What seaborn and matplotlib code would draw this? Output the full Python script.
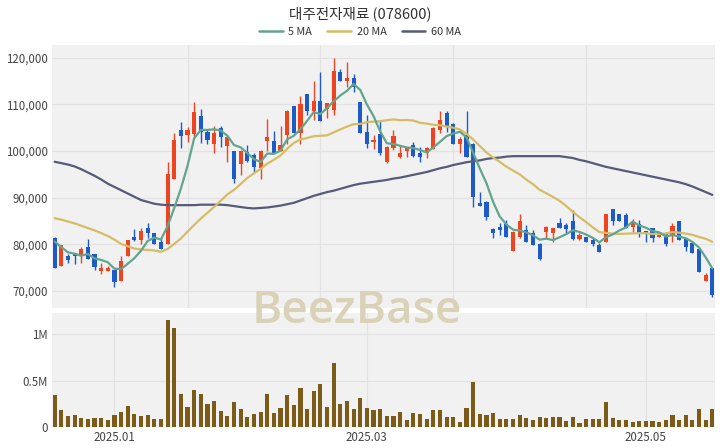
import numpy as np
import pandas as pd
import matplotlib
matplotlib.use("Agg")
import matplotlib.pyplot as plt
import seaborn as sns
from matplotlib.lines import Line2D

title = "대주전자재료 (078600)"
ma_labels = ["5 MA", "20 MA", "60 MA"]
month_labels = ["2025.01", "2025.03", "2025.05"]
month_index = [9, 47, 89]          # first trading day of each month
price_ticks = [70000, 80000, 90000, 100000, 110000, 120000]
vol_ticks = [0, 500000, 1000000]
vol_tick_labels = ["0", "0.5M", "1M"]

opens = [81400, 75400, 77400, 78100, 77400, 79500, 77900, 74300, 74300, 74500,
         72200, 77600, 81500, 80900, 83600, 82500, 80400, 80100, 94100, 104600,
         103400, 103600, 107500, 104100, 101600, 104900, 101100, 100000, 97200, 99700,
         99100, 96400, 102200, 102100, 99900, 103400, 109700, 103800, 112200, 108600,
         110700, 109000, 108800, 117000, 114900, 115700, 110600, 104100, 102000, 103600,
         97700, 100600, 98800, 99900, 101300, 99500, 99500, 100400, 104500, 108200,
         105800, 101600, 103400, 101600, 88800, 89100, 83200, 83800, 84400, 78600,
         81500, 83100, 82500, 80100, 82700, 82500, 84600, 84100, 84900, 81100,
         81500, 80900, 79900, 80400, 87500, 86500, 86300, 83800, 84400, 82900,
         83400, 81500, 82500, 82000, 85000, 81400, 80200, 79100, 72200, 74900]
highs = [81600, 79900, 77900, 78100, 79500, 81100, 77900, 76100, 75300, 74500,
         77500, 81000, 83300, 83400, 84600, 82500, 81300, 97700, 103900, 106300,
         105100, 110400, 108900, 104600, 105400, 105400, 103100, 100000, 100200, 101300,
         99600, 100200, 106900, 104300, 105400, 108800, 109700, 111800, 112200, 114900,
         117000, 110200, 119900, 117500, 119100, 116600, 110600, 107700, 103400, 106600,
         101100, 104500, 101100, 100900, 102000, 100900, 100800, 105100, 108600, 108600,
         105900, 102900, 108600, 101700, 91300, 89200, 83600, 84500, 85200, 82800,
         86400, 84100, 83100, 80200, 83900, 83500, 85600, 84600, 87400, 82400,
         81500, 81300, 80200, 86600, 87500, 86500, 86800, 85400, 85200, 82900,
         83400, 82100, 82700, 84500, 85000, 81400, 80200, 79100, 73800, 74900]
lows = [74900, 75400, 76000, 75800, 76100, 76900, 74600, 73600, 74300, 70800,
        72200, 77600, 80700, 80000, 81400, 80100, 78900, 80100, 93900, 100600,
        102000, 103100, 101800, 101500, 99600, 100900, 97700, 93100, 94900, 97700,
        95600, 94100, 99900, 99600, 99900, 101600, 103800, 101600, 107700, 106600,
        106500, 107000, 107700, 114900, 113800, 112700, 103800, 100600, 100400, 99100,
        97500, 100200, 98600, 98800, 98800, 97700, 98400, 100400, 103900, 104100,
        101400, 99600, 98700, 88100, 88200, 85200, 81300, 82000, 81500, 78500,
        81400, 80400, 79800, 76600, 81300, 80400, 83400, 82400, 80900, 81000,
        80400, 79600, 78400, 80400, 84100, 84900, 83400, 82700, 81600, 80600,
        80600, 81500, 79600, 80600, 80900, 78600, 78200, 74100, 72200, 68800]
closes = [75000, 79900, 76600, 77400, 78900, 76900, 75200, 74900, 74900, 72000,
          76500, 80900, 80900, 82900, 82400, 80100, 78900, 95100, 102400, 103200,
          104500, 108400, 104100, 102400, 103900, 103100, 102900, 94100, 99900, 97900,
          96500, 99900, 103100, 99600, 101300, 108600, 103800, 110000, 108600, 110700,
          106500, 110200, 117200, 114900, 115700, 113800, 103900, 101600, 102400, 99500,
          100900, 103200, 99600, 100600, 98900, 98800, 100600, 104900, 106600, 105100,
          101500, 102500, 98800, 90100, 88300, 85800, 82500, 83100, 81600, 82700,
          84900, 80600, 79900, 76900, 83800, 83400, 83600, 83200, 81100, 82000,
          80600, 80100, 78400, 86600, 84900, 84900, 83400, 84600, 82400, 82500,
          81300, 82100, 80100, 84000, 80900, 79400, 78200, 74100, 73400, 69100]
volumes = [340000, 180000, 120000, 130000, 100000, 90000, 100000, 100000, 70000, 130000,
           160000, 225000, 140000, 120000, 130000, 90000, 85000, 1150000, 1060000, 360000,
           210000, 400000, 360000, 250000, 275000, 170000, 120000, 270000, 190000, 110000,
           140000, 160000, 350000, 150000, 200000, 340000, 240000, 420000, 190000, 390000,
           460000, 210000, 690000, 250000, 280000, 190000, 310000, 200000, 180000, 190000,
           120000, 120000, 160000, 80000, 150000, 135000, 85000, 180000, 180000, 110000,
           110000, 50000, 205000, 480000, 140000, 125000, 150000, 90000, 85000, 90000,
           130000, 95000, 80000, 110000, 100000, 105000, 110000, 60000, 110000, 45000,
           90000, 90000, 90000, 265000, 100000, 80000, 80000, 50000, 65000, 60000,
           60000, 50000, 70000, 125000, 70000, 125000, 70000, 190000, 80000, 195000]
# moving-average values before enough history is in the window
ma5_head = [80600, 79400, 78300, 78000]
ma20_head = [85600, 85300, 84900, 84500, 84000, 83500, 83000, 82400, 81800, 81000,
             80100, 79600, 79100, 78900, 78800, 78700, 78400, 79000, 80100]
ma60 = [97700, 97400, 97100, 96700, 96100, 95400, 94700, 93900, 93000, 92300,
        91600, 90900, 90200, 89500, 89100, 88700, 88500, 88400, 88400, 88400,
        88400, 88400, 88500, 88500, 88500, 88500, 88400, 88200, 88000, 87800,
        87700, 87800, 87900, 88100, 88300, 88600, 88900, 89400, 89900, 90400,
        90800, 91200, 91500, 91900, 92300, 92700, 93000, 93200, 93400, 93600,
        93800, 94100, 94300, 94600, 94900, 95200, 95500, 95900, 96300, 96600,
        97000, 97300, 97600, 97800, 98000, 98300, 98500, 98600, 98800, 98900,
        98900, 98900, 98900, 98900, 98900, 98900, 98900, 98700, 98500, 98100,
        97800, 97400, 97000, 96600, 96300, 96000, 95700, 95400, 95100, 94800,
        94500, 94200, 93900, 93600, 93300, 92900, 92400, 91800, 91200, 90600]

# ---------------- styling ----------------
sns.set_theme(style="whitegrid")
plt.rcParams["font.family"] = ["Noto Sans CJK KR", "DejaVu Sans"]

UP, DOWN = "#ef4420", "#1f5bc6"
C5, C20, C60 = "#62a58c", "#d4bd64", "#555b78"
VOLC = "#7a5b17"
BG, GRID = "#f1f1f1", "#e2e2e2"
TXT = "#444444"

n = len(closes)
idx = np.arange(n)
df = pd.DataFrame({"i": idx, "o": opens, "h": highs, "l": lows, "c": closes, "v": volumes})
ma5 = df["c"].rolling(5).mean().to_numpy()
ma5[:4] = ma5_head
ma20 = df["c"].rolling(20).mean().to_numpy()
ma20[:19] = ma20_head
df["ma5"], df["ma20"], df["ma60"] = ma5, ma20, ma60

fig = plt.figure(figsize=(7.2, 4.48), dpi=100)
fig.patch.set_facecolor("white")
ax = fig.add_axes([52 / 720, 1 - 308 / 448, 663 / 720, 263 / 448])
axv = fig.add_axes([52 / 720, 1 - 427 / 448, 663 / 720, 114 / 448])

for a in (ax, axv):
    a.set_facecolor(BG)
    for s in a.spines.values():
        s.set_visible(False)
    a.grid(True, color=GRID, linewidth=0.9)
    a.tick_params(length=0, colors=TXT, labelsize=8.3, pad=3)
    a.set_axisbelow(True)

# candles
o = df["o"].to_numpy(); c = df["c"].to_numpy()
cols = np.where(c >= o, UP, DOWN)
ax.vlines(idx, df["l"], df["h"], colors=cols, linewidth=1.0, zorder=2)
body = np.maximum(np.abs(c - o), 250)
ax.bar(idx, body, bottom=np.minimum(o, c), width=0.62, color=cols, linewidth=0, zorder=2)

# moving averages
sns.lineplot(data=df, x="i", y="ma60", ax=ax, color=C60, linewidth=1.6, zorder=3)
sns.lineplot(data=df, x="i", y="ma20", ax=ax, color=C20, linewidth=1.6, zorder=3)
sns.lineplot(data=df, x="i", y="ma5", ax=ax, color=C5, linewidth=1.6, zorder=3)

ax.set_xlim(-0.4, n - 0.6)
ax.set_ylim(66360, 122720)
ax.set_yticks(price_ticks)
ax.set_yticklabels([f"{t:,}" for t in price_ticks])
ax.set_xticks([20, 40, 60, 80])
ax.set_xticklabels([])
ax.set_xlabel(""); ax.set_ylabel("")

# volume
sns.barplot(data=df, x="i", y="v", ax=axv, color=VOLC, saturation=1, width=0.62,
            native_scale=True, linewidth=0, zorder=2)
axv.set_xlim(-0.4, n - 0.6)
axv.set_ylim(0, 1226000)
axv.set_yticks(vol_ticks)
axv.set_yticklabels(vol_tick_labels)
axv.set_xticks(month_index)
axv.set_xticklabels(month_labels, fontsize=8.3, color=TXT)
axv.set_xlabel(""); axv.set_ylabel("")

# title, legend, watermark
fig.text(0.5, 1 - 14 / 448, title, ha="center", va="center", fontsize=10.5, color="#333333")
handles = [Line2D([], [], color=C5, lw=1.8), Line2D([], [], color=C20, lw=1.8),
           Line2D([], [], color=C60, lw=1.8)]
fig.legend(handles, ma_labels, loc="center", bbox_to_anchor=(0.5, 1 - 32 / 448), ncol=3,
           frameon=False, fontsize=7.8, handlelength=2.2, handletextpad=0.5,
           columnspacing=1.4, labelcolor="#333333")
fig.text(0.496, 1 - 311 / 448, "BeezBase", ha="center", va="center", fontsize=33,
         fontweight="semibold", color="#d9d2b7", family=["Open Sans", "DejaVu Sans"], zorder=10)

fig.savefig("out.png", dpi=100, facecolor="white")
